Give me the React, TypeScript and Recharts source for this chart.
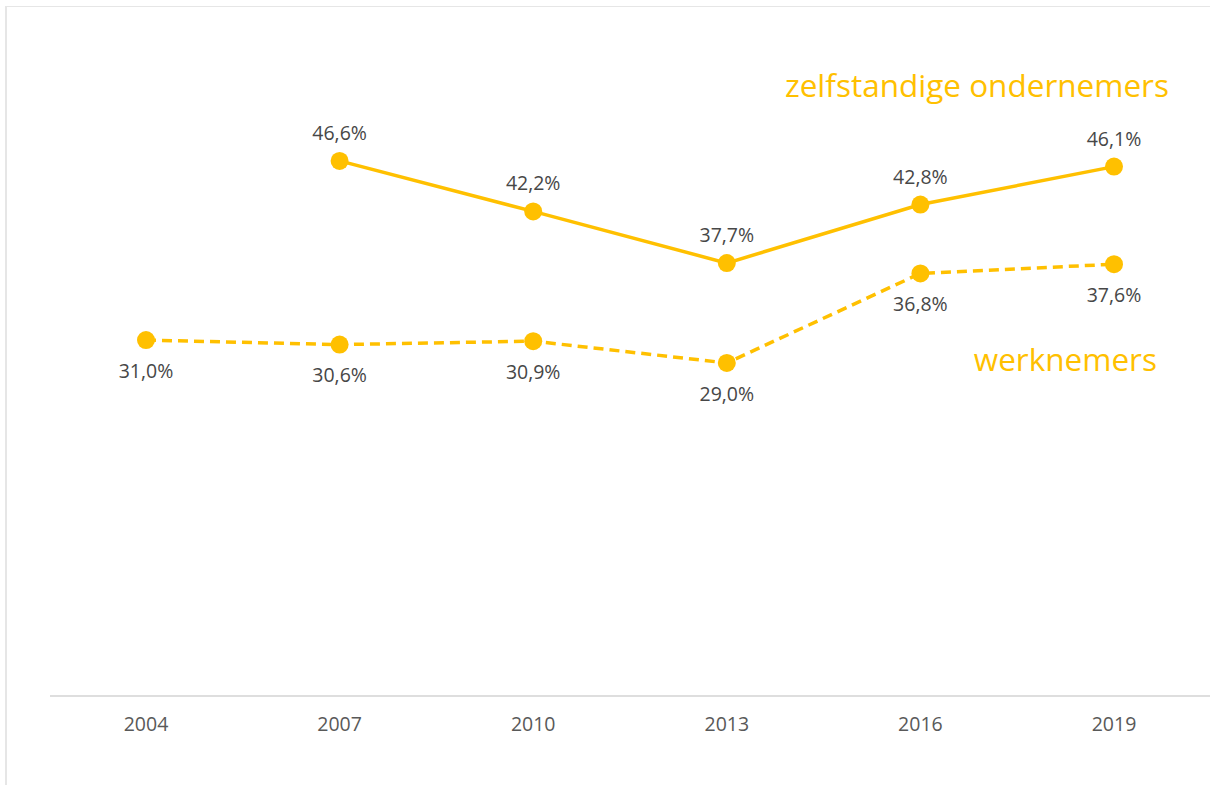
import { LineChart, Line, XAxis, YAxis, LabelList } from "recharts";

const years = ["2004", "2007", "2010", "2013", "2016", "2019"];
const zelfstandigen: (number | null)[] = [null, 46.6, 42.2, 37.7, 42.8, 46.1];
const werknemers = [31.0, 30.6, 30.9, 29.0, 36.8, 37.6];

const YELLOW = "#FFC000";
const FONT = "'Open Sans', sans-serif";

const data = years.map((year, i) => ({
  year,
  zelfstandigen: zelfstandigen[i],
  werknemers: werknemers[i],
}));

const fmt = (v: unknown) =>
  typeof v === "number" ? `${v.toFixed(1).replace(".", ",")}%` : "";

export default function App() {
  return (
    <div style={{ position: "absolute", left: 0, top: 0, width: 1210, height: 785, overflow: "hidden", fontFamily: FONT }}>
      <div
        style={{
          position: "absolute",
          left: 5,
          top: 6,
          width: 1300,
          height: 900,
          borderLeft: "2px solid #e6e6e6",
          borderTop: "1px solid #e6e6e6",
        }}
      />
      <LineChart
        width={1210}
        height={785}
        data={data}
        margin={{ top: 7, right: 0, left: 50, bottom: 49 }}
        style={{ position: "absolute", left: 0, top: 0 }}
      >
        <XAxis
          dataKey="year"
          height={40}
          padding={{ left: 96, right: 96 }}
          tickLine={false}
          tickMargin={15}
          axisLine={{ stroke: "#dedede", strokeWidth: 2 }}
          tick={{ fontSize: 19.5, fill: "#595959", fontFamily: FONT }}
        />
        <YAxis hide domain={[0, 60]} />
        <Line
          dataKey="zelfstandigen"
          stroke={YELLOW}
          strokeWidth={3.5}
          dot={{ r: 9, fill: YELLOW, stroke: "none" }}
          activeDot={false}
          isAnimationActive={false}
        >
          <LabelList
            dataKey="zelfstandigen"
            position="top"
            offset={21}
            formatter={fmt}
            style={{ fontSize: 19.5, fill: "#474747", fontFamily: FONT }}
          />
        </Line>
        <Line
          dataKey="werknemers"
          stroke={YELLOW}
          strokeWidth={3.5}
          strokeDasharray="10 6"
          dot={{ r: 9, fill: YELLOW, stroke: "none", strokeDasharray: "" }}
          activeDot={false}
          isAnimationActive={false}
        >
          <LabelList
            dataKey="werknemers"
            position="bottom"
            offset={24}
            formatter={fmt}
            style={{ fontSize: 19.5, fill: "#474747", fontFamily: FONT }}
          />
        </Line>
      </LineChart>
      <div
        style={{
          position: "absolute",
          right: 41,
          top: 65,
          fontSize: 31.5,
          lineHeight: "40px",
          color: YELLOW,
          whiteSpace: "nowrap",
        }}
      >
        zelfstandige ondernemers
      </div>
      <div
        style={{
          position: "absolute",
          right: 53,
          top: 339,
          fontSize: 31.5,
          lineHeight: "40px",
          color: YELLOW,
          whiteSpace: "nowrap",
        }}
      >
        werknemers
      </div>
    </div>
  );
}
